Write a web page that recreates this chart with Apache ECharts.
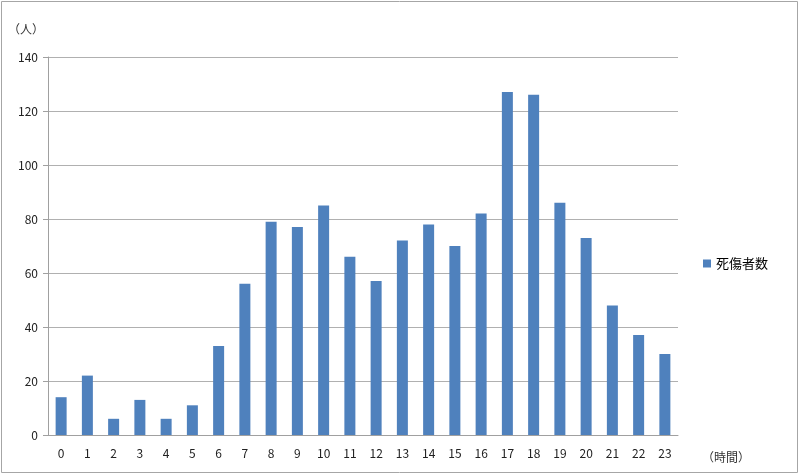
<!DOCTYPE html>
<html><head><meta charset="utf-8">
<script src="https://cdn.jsdelivr.net/npm/echarts@6/dist/echarts.min.js"></script>
<style>html,body{margin:0;padding:0;background:#fff}#c{width:800px;height:475px}</style>
</head><body><div id="c"></div>
<script>
const hours = ['0','1','2','3','4','5','6','7','8','9','10','11','12','13','14','15','16','17','18','19','20','21','22','23'];
const casualties = [14,22,6,13,6,11,33,56,79,77,85,66,57,72,78,70,82,127,126,86,73,48,37,30];
const seriesName = '死傷者数';
const yTicks = {min:0, max:140, interval:20};

const chart = echarts.init(document.getElementById('c'));
const font = '"Noto Sans CJK JP", "Noto Sans", sans-serif';
chart.setOption({
  animation:false,
  textStyle:{fontFamily:font},
  graphic:[{type:'rect',shape:{x:1.5,y:1.5,width:796,height:471},style:{fill:'none',stroke:'#a6a6a6',lineWidth:1}}],
  grid:{left:48,right:122,top:57,bottom:40,containLabel:false,outerBoundsMode:'none'},
  legend:{orient:'vertical',left:698,top:252,itemWidth:8,itemHeight:8,itemGap:6,
    icon:'rect',textStyle:{fontSize:13,color:'#000',fontFamily:font},data:[seriesName]},
  xAxis:{type:'category',data:hours,
    name:'（時間）',nameLocation:'end',nameGap:24,
    nameTextStyle:{fontSize:12,color:'#333',padding:[16,0,0,0],verticalAlign:'top'},
    axisLine:{lineStyle:{color:'#a0a0a0'}},axisTick:{show:false},
    axisLabel:{fontSize:12,color:'#222',margin:12}},
  yAxis:{type:'value',min:yTicks.min,max:yTicks.max,interval:yTicks.interval,
    name:'（人）',nameLocation:'end',nameGap:22,
    nameTextStyle:{fontSize:12,color:'#333',align:'right',padding:[0,4,0,0]},
    axisLine:{show:true,lineStyle:{color:'#a0a0a0'}},
    axisTick:{show:true,length:5,lineStyle:{color:'#a0a0a0'}},
    axisLabel:{fontSize:12,color:'#222',margin:10},
    splitLine:{lineStyle:{color:'#b0b0b0'}}},
  series:[{name:seriesName,type:'bar',data:casualties,barWidth:11,
    itemStyle:{color:'#4f81bd'}}]
});
</script></body></html>
